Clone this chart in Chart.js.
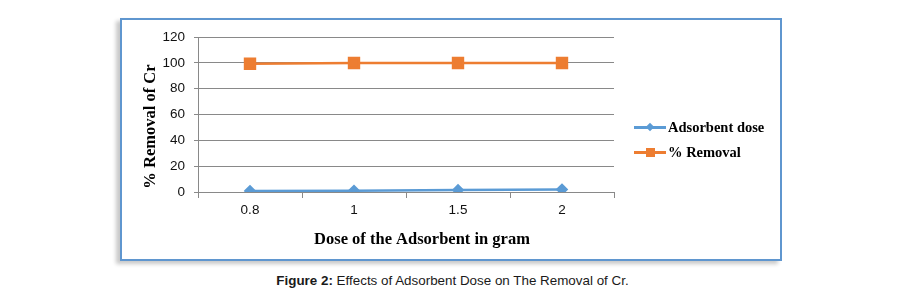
<!DOCTYPE html>
<html>
<head>
<meta charset="utf-8">
<script src="https://cdn.jsdelivr.net/npm/chart.js@4/dist/chart.umd.min.js"></script>
<style>
  html, body { margin:0; padding:0; background:#fff; }
  body { width:905px; height:295px; position:relative; overflow:hidden; font-family:"Liberation Sans", Arial, sans-serif; }
  #frame { position:absolute; left:120px; top:18px; width:658px; height:239px; border:2px solid #5f96cf; box-shadow:-4px 3px 4px rgba(0,0,0,0.22); background:#fff; }
  #frame canvas { position:absolute; left:0; top:0; }
  .leg { position:absolute; left:634px; height:20px; font-family:"Liberation Serif","Times New Roman",serif; font-weight:bold; font-size:14.5px; color:#000; }
  .leg .ln { position:absolute; left:0; top:9px; width:32px; height:3px; }
  .leg .mk { position:absolute; }
  .leg .tx { position:absolute; left:34px; top:0; line-height:20px; white-space:nowrap; }
  #caption { position:absolute; left:0; top:273px; width:905px; text-align:center; font-size:13.4px; color:#1a1a1a; }
</style>
</head>
<body>
<div id="frame"><canvas id="c" width="658" height="239"></canvas></div>
<div class="leg" style="top:117px;"><div class="ln" style="background:#5b9bd5"></div><div class="mk" style="left:13px;top:7px;width:6px;height:6px;background:#5b9bd5;transform:rotate(45deg)"></div><div class="tx">Adsorbent dose</div></div>
<div class="leg" style="top:142px;"><div class="ln" style="background:#ed7d31"></div><div class="mk" style="left:12px;top:6px;width:9px;height:9px;background:#ed7d31"></div><div class="tx">% Removal</div></div>
<div id="caption"><b>Figure 2:</b> Effects of Adsorbent Dose on The Removal of Cr.</div>
<script>
const categories = ["0.8", "1", "1.5", "2"];
const adsorbentDose = [0.8, 1, 1.5, 2];
const percentRemoval = [99.4, 99.9, 99.9, 99.9];
const yTicks = [0, 20, 40, 60, 80, 100, 120];
const xTitle = "Dose of the Adsorbent in gram";
const yTitle = "% Removal of Cr";

const gridColor = "#898989";
const titleFont = 'bold 16.5px "Liberation Serif", "Times New Roman", serif';

const axisTitles = {
  id: "axisTitles",
  afterDraw(chart) {
    const { ctx, chartArea, scales } = chart;
    ctx.save();
    ctx.fillStyle = "#000";
    ctx.font = titleFont;
    ctx.textAlign = "center";
    ctx.textBaseline = "middle";
    ctx.fillText(xTitle, (chartArea.left + chartArea.right) / 2 + 16, scales.x.bottom - 19);
    ctx.translate(scales.y.left + 29, (chartArea.top + chartArea.bottom) / 2 + 12);
    ctx.rotate(-Math.PI / 2);
    ctx.fillText(yTitle, 0, 0);
    ctx.restore();
  }
};

new Chart(document.getElementById("c"), {
  type: "line",
  data: {
    labels: categories,
    datasets: [
      { label: "Adsorbent dose", data: adsorbentDose, borderColor: "#5b9bd5", backgroundColor: "#5b9bd5",
        borderWidth: 2.5, pointStyle: "rectRot", pointRadius: 4.5, pointHoverRadius: 4.5, tension: 0 },
      { label: "% Removal", data: percentRemoval, borderColor: "#ed7d31", backgroundColor: "#ed7d31",
        borderWidth: 2.5, pointStyle: "rect", pointRadius: 7, pointHoverRadius: 7, tension: 0 }
    ]
  },
  plugins: [axisTitles],
  options: {
    responsive: false,
    animation: false,
    events: [],
    layout: { padding: { left: 0, right: 166, top: 16, bottom: 0 } },
    plugins: { legend: { display: false }, tooltip: { enabled: false } },
    scales: {
      x: {
        type: "category",
        offset: true,
        grid: { display: true, drawOnChartArea: false, drawTicks: true, tickLength: 6, offset: true, color: gridColor },
        border: { display: true, color: gridColor, width: 1 },
        ticks: { color: "#111", font: { family: "Liberation Sans", size: 13.5 }, padding: 4, maxRotation: 0 },
        title: { display: false },
        afterFit: s => { s.height = 67; }
      },
      y: {
        min: 0, max: 120,
        afterBuildTicks: s => { s.ticks = yTicks.map(v => ({ value: v })); },
        grid: { color: gridColor, tickLength: 4, drawTicks: true },
        border: { display: true, color: gridColor, width: 1 },
        ticks: { color: "#111", font: { family: "Liberation Sans", size: 13.5 }, padding: 9 },
        title: { display: false },
        afterFit: s => { s.width = 76; }
      }
    }
  }
});
</script>
</body>
</html>
